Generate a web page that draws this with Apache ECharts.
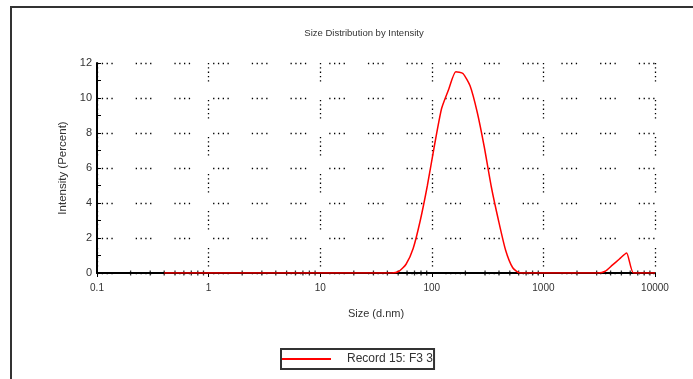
<!DOCTYPE html>
<html>
<head>
<meta charset="UTF-8">
<title>Size Distribution by Intensity</title>
<script src="https://cdn.jsdelivr.net/npm/echarts@6/dist/echarts.min.js"></script>
<style>
  html, body { margin: 0; padding: 0; background: #fff; }
  #main { width: 693px; height: 379px; }
</style>
</head>
<body>
<div id="main"></div>
<script>
// size classes (d.nm) and intensity (%)
var sizes = [0.4, 43.82, 50.75, 58.77, 68.06, 78.82, 91.28, 105.7, 122.4, 141.8, 164.2, 190.1,
  220.2, 255.0, 295.3, 342.0, 396.1, 458.7, 531.2, 615.1, 3091, 3580, 4145, 4801, 5560, 6439, 10000];
var intensity = [0, 0, 0.1, 0.5, 1.4, 3.0, 5.0, 7.3, 9.4, 10.5, 11.5, 11.4,
  10.7, 9.2, 7.2, 4.9, 3.0, 1.3, 0.3, 0, 0, 0.1, 0.45, 0.8, 1.15, 0, 0];
var seriesName = 'Record 15: F3 3';

// minor ticks of the log x axis
var minorTicks = [0.2, 0.3, 0.4, 0.5, 0.6, 0.7, 0.8, 0.9,
  2, 3, 4, 5, 6, 7, 8, 9,
  20, 30, 40, 50, 60, 70, 80, 90,
  200, 300, 400, 500, 600, 700, 800, 900,
  2000, 3000, 4000, 5000, 6000, 7000, 8000, 9000];

var font = "'Liberation Sans', Arial, sans-serif";
var myChart = echarts.init(document.getElementById('main'));

var option = {
  backgroundColor: '#fff',
  animation: false,
  title: {
    text: 'Size Distribution by Intensity',
    left: 359,
    textAlign: 'center',
    top: 23,
    textStyle: { fontFamily: font, fontSize: 9.5, fontWeight: 'normal', color: '#333' }
  },
  graphic: [{
    type: 'rect',
    shape: { x: 11, y: 7, width: 720, height: 420 },
    style: { fill: 'none', stroke: '#333', lineWidth: 2 },
    silent: true
  }],
  legend: {
    data: [seriesName],
    left: 281,
    top: 349,
    icon: 'rect',
    itemWidth: 49,
    itemHeight: 2,
    padding: [4, 1, 4, 1],
    borderColor: '#333',
    borderWidth: 2,
    textStyle: { fontFamily: font, fontSize: 12, color: '#333', padding: [0, 0, 0, 11] }
  },
  grid: { left: 97, right: 38, top: 63, bottom: 106 },
  xAxis: {
    type: 'log',
    logBase: 10,
    min: 0.1,
    max: 10000,
    name: 'Size (d.nm)',
    nameLocation: 'middle',
    nameGap: 35,
    nameTextStyle: { fontFamily: font, fontSize: 11, color: '#333' },
    axisLine: { onZero: false, lineStyle: { color: '#000', width: 2 } },
    axisTick: { show: true, length: 4, lineStyle: { color: '#000' } },
    axisLabel: {
      margin: 10, fontFamily: font, fontSize: 10, color: '#333',
      formatter: function (v) { return String(v); }
    },
    splitLine: {
      show: true,
      lineStyle: { color: '#000', width: 1.3, type: [1.3, 3, 1.3, 3, 1.3, 3, 1.3, 3, 1.3, 18.5] }
    }
  },
  yAxis: {
    type: 'value',
    min: 0,
    max: 12,
    interval: 2,
    name: 'Intensity (Percent)',
    nameLocation: 'middle',
    nameGap: 26,
    nameTextStyle: { fontFamily: font, fontSize: 11.5, color: '#333' },
    axisLine: { show: true, lineStyle: { color: '#000', width: 2 } },
    axisTick: { show: true, inside: true, length: 4, lineStyle: { color: '#000' } },
    minorTick: { show: true, splitNumber: 2, length: 4, lineStyle: { color: '#000' } },
    axisLabel: { margin: 5, fontFamily: font, fontSize: 11, color: '#333' },
    splitLine: {
      show: true,
      lineStyle: { color: '#000', width: 1.3, type: [1.3, 3.5, 1.3, 3.5, 1.3, 3.5, 1.3, 23] }
    }
  },
  series: [
    {
      name: 'ticks',
      type: 'scatter',
      silent: true,
      symbol: 'rect',
      symbolSize: [1.3, 5],
      itemStyle: { color: '#000' },
      data: minorTicks.map(function (t) { return [t, 0]; }),
      z: 1
    },
    {
      name: seriesName,
      type: 'line',
      showSymbol: false,
      symbol: 'none',
      smooth: 0.2,
      lineStyle: { color: '#ff0000', width: 1.5 },
      itemStyle: { color: '#ff0000' },
      data: sizes.map(function (s, i) { return [s, intensity[i]]; }),
      z: 3
    }
  ]
};

myChart.setOption(option);
</script>
</body>
</html>
